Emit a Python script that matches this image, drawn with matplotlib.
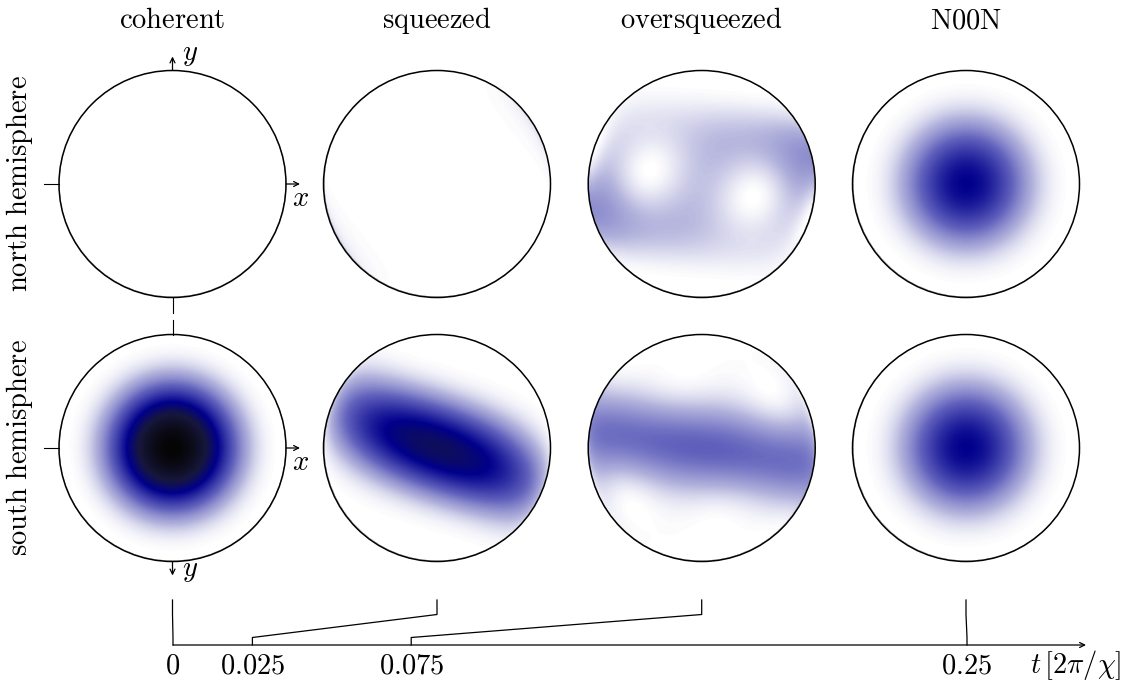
#import used libraries
import numpy as np
from math import comb
from matplotlib import pyplot as plt
from matplotlib.colors import LinearSegmentedColormap
from matplotlib.patches import Circle

plt.rcParams['mathtext.fontset'] = 'cm'

#states along the twisting, times in units of 2pi/chi
state_names = ['coherent', 'squeezed', 'oversqueezed', 'N00N']
times = [0.0, 0.025, 0.075, 0.25]
tick_labels = ['0', '0.025', '0.075', '0.25']
row_names = ['north hemisphere', 'south hemisphere']
n_spins = 16

#layout in pixels (figure 1137 x 684)
W, H = 1137, 684
col_x = [172.5, 437.0, 701.7, 966.0]
row_y = [184.0, 448.0]
R = 113.5
fs = 20.5

#spin operators in the Jz basis, m = -J..J
J = n_spins/2
m = np.arange(-J, J+1)
jp = np.diag(np.sqrt(J*(J+1) - m[:-1]*(m[:-1]+1)), -1)
jy = (jp - jp.T)/(2j)
w, V = np.linalg.eigh(jy)


def evolve(t):
    #one-axis twisting about y, starting at the south pole
    psi0 = np.zeros(len(m), complex)
    psi0[0] = 1
    U = V @ np.diag(np.exp(1j*2*np.pi*t*w**2)) @ V.conj().T
    return U @ psi0


def husimi(psi, theta, phi):
    amp = np.zeros(theta.shape, complex)
    c = np.cos(theta/2)
    s = np.sin(theta/2)
    for k in range(len(m)):
        amp += np.sqrt(comb(n_spins, k))*c**k*s**(n_spins-k)*np.exp(1j*m[k]*phi)*psi[k]
    return np.abs(amp)**2


#disk grid (orthographic view of a hemisphere), rows go from screen bottom to top
res = 401
g = np.linspace(-1, 1, res)
X, Y = np.meshgrid(g, g)
r = np.sqrt(X**2 + Y**2)
outside = r > 1.0
polar = np.arcsin(np.clip(r, 0, 1))

#white -> blue -> navy -> black, low values a bit more saturated
cmap = LinearSegmentedColormap.from_list('wbk', [(0.0, 'white'),
                                                 (0.1, (0.70, 0.70, 0.865)),
                                                 (0.25, (0.38, 0.38, 0.74)),
                                                 (0.5, (0, 0, 0.55)),
                                                 (0.7, (0.09, 0.09, 0.24)),
                                                 (1.0, (0.02, 0.02, 0.02))])

fig = plt.figure(figsize=(W/100, H/100), dpi=100)
ax = fig.add_axes([0, 0, 1, 1])
ax.set_xlim(0, W)
ax.set_ylim(H, 0)
ax.axis('off')

for j, t in enumerate(times):
    psi = evolve(t)
    for i in range(2):
        cx, cy = col_x[j], row_y[i]
        if i == 0:
            theta = polar
            phi = np.arctan2(Y, X)
        else:
            #seen from below: y points down on screen
            theta = np.pi - polar
            phi = np.arctan2(-Y, X)
        Q = husimi(psi, theta, phi)
        Q[outside] = np.nan
        im = ax.imshow(Q, cmap=cmap, vmin=0, vmax=1, origin='lower', interpolation='bilinear',
                       extent=(cx-R, cx+R, cy+R, cy-R), aspect='auto', zorder=1)
        clip = Circle((cx, cy), R, transform=ax.transData)
        im.set_clip_path(clip)
        ax.add_patch(Circle((cx, cy), R, fill=False, ec='k', lw=1.1, zorder=3))
    ax.text(cx, 28.5, r'$\mathrm{%s}$' % state_names[j], ha='center', va='baseline', fontsize=fs)

for i in range(2):
    ax.text(20, row_y[i], r'$\mathrm{%s}$' % row_names[i].replace(' ', r'\ '), rotation=90,
            ha='center', va='center', fontsize=fs)

#coordinate axes on the coherent column
arrow = dict(arrowstyle='->', lw=0.9, color='k', shrinkA=0, shrinkB=0, mutation_scale=9)
cx = col_x[0]
for i, cy in enumerate(row_y):
    ax.plot([cx-R-15, cx-R], [cy, cy], color='k', lw=0.8)
    ax.annotate('', xy=(cx+R+14, cy), xytext=(cx+R, cy), arrowprops=arrow)
    ax.text(cx+R+6, cy+22, r'$x$', ha='left', va='baseline', fontsize=fs)
sgn = [-1, 1]
for i, cy in enumerate(row_y):
    ax.annotate('', xy=(cx, cy+sgn[i]*(R+14)), xytext=(cx, cy+sgn[i]*R), arrowprops=arrow)
    ax.plot([cx, cx], [cy-sgn[i]*R, cy-sgn[i]*(R+15)], color='k', lw=0.8)
ax.text(cx+10, row_y[0]-R-11, r'$y$', ha='left', va='baseline', fontsize=fs)
ax.text(cx+10, row_y[1]+R+15, r'$y$', ha='left', va='baseline', fontsize=fs)

#time axis, y in pixels from the top
tax = fig.add_axes([173/W, 0, (967-173)/W, 94/H])
tax.set_xlim(0, 0.25)
tax.set_ylim(H, H-94)
tax.axis('off')
y_axis = 645
t_end = tax.transData.inverted().transform(ax.transData.transform((1086, y_axis)))[0]
tax.annotate('', xy=(t_end, y_axis), xytext=(0, y_axis), arrowprops=arrow, annotation_clip=False)
for j, t in enumerate(times):
    tx = tax.transData.inverted().transform(ax.transData.transform((col_x[j], 600)))[0]
    tax.plot([tx, tx, t, t], [600, 614.5, 637.5, y_axis], color='k', lw=0.9, clip_on=False)
    tax.text(t, 673, r'$%s$' % tick_labels[j], ha='center', va='baseline', fontsize=fs, clip_on=False)
tax.text(t_end - 0.0175, 673, r'$t\,[2\pi/\chi]$', ha='left', va='baseline', fontsize=fs, clip_on=False)

plt.savefig('out.png', dpi=100)
plt.close()
